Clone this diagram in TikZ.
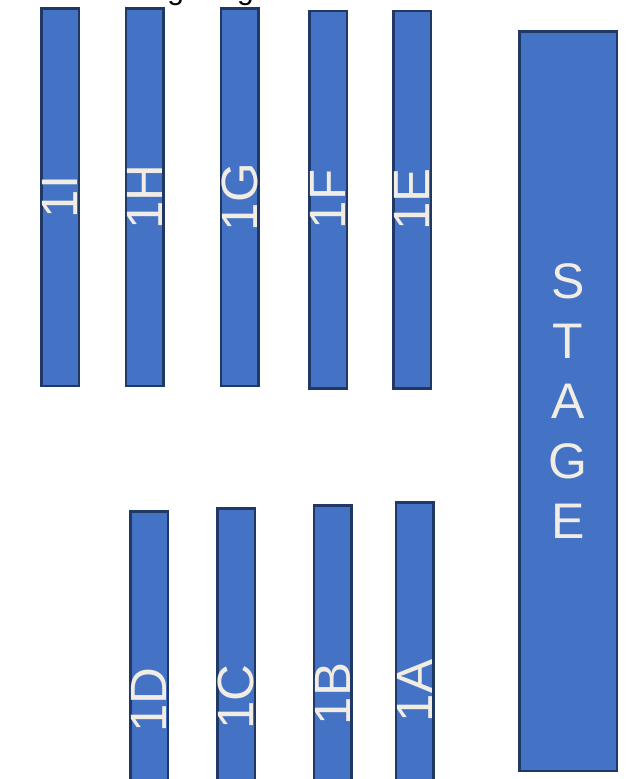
\documentclass[tikz,border=0pt]{standalone}
\usepackage{fontspec}
\setmainfont{Liberation Sans}
\definecolor{seatblue}{HTML}{4472C4}
\definecolor{seatedge}{HTML}{1F3864}
\definecolor{seattext}{HTML}{F2EDE4}
\begin{document}
\begin{tikzpicture}[x=1pt,y=-1pt,
  rowbox/.style={draw=seatedge, fill=seatblue, line width=2.5pt, rotate=90,
    minimum width=377.5pt, minimum height=37.5pt, inner sep=0pt,
    font=\fontsize{51}{60}\selectfont, text=seattext},
  stagebox/.style={draw=seatedge, fill=seatblue, line width=2.5pt,
    minimum width=97.5pt, minimum height=739.5pt, inner sep=0pt, align=center,
    font=\fontsize{50}{60}\selectfont, text=seattext},
  titletext/.style={font=\fontsize{30}{36}\selectfont, text=black, inner sep=0pt}]
\useasboundingbox (0,0) rectangle (628,779);
\node[titletext, anchor=base west] (title) at (82,-1) {Seating Diagram};
% top row
\node[rowbox] (r1I) at (60,197) {1I};
\node[rowbox] (r1H) at (144.5,197) {1H};
\node[rowbox] (r1G) at (239.5,197) {1G};
\node[rowbox] (r1F) at (328,199.5) {1F};
\node[rowbox] (r1E) at (412,199.5) {1E};
% bottom row
\node[rowbox] (r1D) at (149,700) {1D};
\node[rowbox] (r1C) at (236,697) {1C};
\node[rowbox] (r1B) at (332.5,694) {1B};
\node[rowbox] (r1A) at (414.5,691) {1A};
% stage
\node[stagebox] (stage) at (568,401) {S\\T\\A\\G\\E};
\end{tikzpicture}
\end{document}
